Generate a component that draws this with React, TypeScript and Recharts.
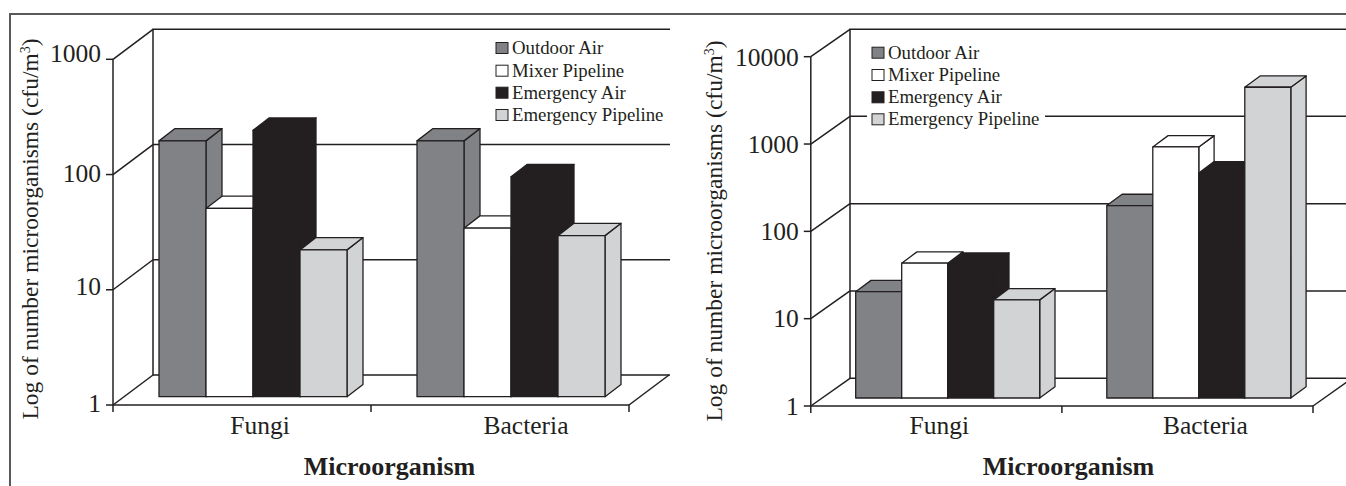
import React from 'react'
import { BarChart, Bar, XAxis, YAxis } from 'recharts'

const categories = ['Fungi', 'Bacteria']
const seriesNames = ['Outdoor Air', 'Mixer Pipeline', 'Emergency Air', 'Emergency Pipeline']
const seriesColors = ['#808285', '#ffffff', '#231f20', '#d1d3d4']

// values, cfu/m3
const leftOutdoor = [166, 166]
const leftMixer = [43, 29]
const leftAir = [205, 81]
const leftPipeline = [18.8, 25]
const leftTicks = [1, 10, 100, 1000]

const rightOutdoor = [16.5, 160]
const rightMixer = [35, 750]
const rightAir = [34, 378]
const rightPipeline = [13.3, 3620]
const rightTicks = [1, 10, 100, 1000, 10000]

const INK = '#231f20'
const SERIF = '"Liberation Serif", serif'
// paint order: a bar's top hides the lower part of its left neighbour's side
const LAYERS = ['side', 'top', 'front']

const buildRows = (columns: number[][]) =>
  categories.map((name, i) => ({
    name,
    s0: columns[0][i],
    s1: columns[1][i],
    s2: columns[2][i],
    s3: columns[3][i],
  }))

const makeShape = (layer: string, fill: string, panel: any) => (props: any) => {
  const w = props.width
  const h = props.height
  const x = props.x + panel.shiftX
  const y = props.y - panel.shiftY
  const dx = panel.barDepthX
  const dy = panel.barDepthY
  const style = { fill, stroke: INK, strokeWidth: 1.3, strokeLinejoin: 'round' as const }
  if (layer === 'top') {
    return <polygon {...style} points={`${x},${y} ${x + dx},${y - dy} ${x + w + dx},${y - dy} ${x + w},${y}`} />
  }
  if (layer === 'side') {
    return <polygon {...style} points={`${x + w},${y} ${x + w + dx},${y - dy} ${x + w + dx},${y + h - dy} ${x + w},${y + h}`} />
  }
  return <rect {...style} x={x} y={y} width={w} height={h} />
}

const Panel = ({ panel, columns, ticks }: any) => {
  const rows = buildRows(columns)
  const { left, width, plotLeft, plotRight, plotTop, plotBottom, wallX, wallY, wallRight } = panel
  const decade = (plotBottom - plotTop) / Math.log10(ticks[ticks.length - 1])
  const tickY = (v: number) => plotBottom - decade * Math.log10(v)
  const band = (plotRight - plotLeft) / categories.length
  const wallTop = 29.3

  const renderXTick = (props: any) => (
    <text
      x={props.x + panel.labelShift[props.index]}
      y={434}
      textAnchor="middle"
      fontFamily={SERIF}
      fontSize={25.5}
      fill={INK}
    >
      {props.payload.value}
    </text>
  )

  const renderYTick = (props: any) => (
    <text
      x={props.x}
      y={props.y + 8.5 - panel.tickLift[props.index]}
      textAnchor="end"
      fontFamily={SERIF}
      fontSize={25.5}
      fill={INK}
    >
      {props.payload.value}
    </text>
  )

  return (
    <div style={{ position: 'absolute', left, top: 0 }}>
      <BarChart
        width={width}
        height={486}
        data={rows}
        barCategoryGap={panel.groupGap}
        barGap={0}
        margin={{ left: plotLeft - 60, right: width - plotRight, top: plotTop, bottom: 486 - plotBottom - 40 }}
      >
        <g fill="none" stroke={INK} strokeWidth={1.5}>
          <polyline points={`${wallRight},${wallTop} ${plotLeft + wallX},${wallTop} ${plotLeft + wallX},${plotBottom - wallY} ${wallRight},${plotBottom - wallY}`} />
          <line x1={plotLeft} y1={plotBottom} x2={plotLeft + wallX} y2={plotBottom - wallY} />
          <line x1={plotRight} y1={plotBottom} x2={plotRight + wallX} y2={plotBottom - wallY} />
          <line x1={plotLeft} y1={tickY(ticks[ticks.length - 1])} x2={plotLeft + wallX} y2={wallTop} />
          {ticks.slice(1, -1).map((v: number) => (
            <g key={v}>
              <line x1={plotLeft} y1={tickY(v)} x2={plotLeft + wallX} y2={tickY(v) - wallY} />
              <line x1={plotLeft + wallX} y1={tickY(v) - wallY} x2={wallRight} y2={tickY(v) - wallY} />
            </g>
          ))}
          {[0, 1, 2].map((i) => (
            <line key={i} x1={plotLeft + band * i} y1={plotBottom} x2={plotLeft + band * i} y2={plotBottom + 7} />
          ))}
        </g>
        {panel.legendGap && <rect x={panel.legendGap[0]} y={panel.legendGap[1]} width={panel.legendGap[2]} height={panel.legendGap[3]} fill="#fff" />}
        <YAxis
          scale="log"
          domain={[1, ticks[ticks.length - 1]]}
          ticks={ticks}
          interval={0}
          allowDataOverflow
          width={60}
          tickSize={7}
          tickMargin={5}
          axisLine={{ stroke: INK, strokeWidth: 1.5 }}
          tickLine={{ stroke: INK, strokeWidth: 1.5 }}
          tick={renderYTick}
        />
        <XAxis
          xAxisId="front"
          dataKey="name"
          height={40}
          interval={0}
          tickLine={false}
          axisLine={{ stroke: INK, strokeWidth: 1.5 }}
          tick={renderXTick}
        />
        <XAxis xAxisId="top" dataKey="name" hide />
        <XAxis xAxisId="side" dataKey="name" hide />
        {LAYERS.flatMap((layer) =>
          seriesNames.map((name, i) => (
            <Bar
              key={layer + name}
              xAxisId={layer}
              dataKey={`s${i}`}
              name={name}
              fill={seriesColors[i]}
              isAnimationActive={false}
              shape={makeShape(layer, seriesColors[i], panel)}
            />
          ))
        )}
        <text
          transform={`translate(${panel.titleX},${panel.titleY}) rotate(-90)`}
          textAnchor="middle"
          fontFamily={SERIF}
          fontSize={23.5}
          fill={INK}
        >
          Log of number microorganisms (cfu/m<tspan dy={-8} fontSize={14}>3</tspan><tspan dy={8}>)</tspan>
        </text>
        <text
          x={panel.xTitleX}
          y={475}
          textAnchor="middle"
          fontFamily={SERIF}
          fontWeight="bold"
          fontSize={26}
          fill={INK}
        >
          Microorganism
        </text>
        {seriesNames.map((name, i) => (
          <g key={name}>
            <rect
              x={panel.legendX}
              y={panel.legendY[i] - 5.5}
              width={12}
              height={11}
              fill={seriesColors[i]}
              stroke={INK}
              strokeWidth={1}
            />
            <text
              x={panel.legendX + 16}
              y={panel.legendY[i] + 6}
              fontFamily={SERIF}
              fontSize={18.8}
              fill={INK}
            >
              {name}
            </text>
          </g>
        ))}
      </BarChart>
    </div>
  )
}

const leftPanel = {
  left: 0,
  width: 680,
  plotLeft: 113,
  plotRight: 629,
  plotTop: 59.3,
  plotBottom: 405,
  wallX: 40,
  wallY: 30,
  wallRight: 670,
  shiftX: 11,
  shiftY: 8.3,
  barDepthX: 16,
  barDepthY: 12.3,
  groupGap: 35,
  labelShift: [18, 26],
  tickLift: [2, 3, 1, 6],
  titleX: 38,
  titleY: 229,
  xTitleX: 389.5,
  legendX: 496,
  legendY: [48, 70.7, 92.7, 115],
}

const rightPanel = {
  left: 680,
  width: 666,
  plotLeft: 130.8,
  plotRight: 633,
  plotTop: 56.7,
  plotBottom: 406,
  wallX: 39.2,
  wallY: 27.7,
  wallRight: 666,
  shiftX: 11.3,
  shiftY: 8,
  barDepthX: 15.3,
  barDepthY: 11.3,
  groupGap: 33.6,
  labelShift: [3, 18],
  tickLift: [0, 0, 0, 0, -1],
  titleX: 42,
  titleY: 231,
  xTitleX: 388.5,
  legendX: 192,
  legendY: [52.7, 75, 97.3, 119.3],
  legendGap: [187, 107, 178, 19],
}

export default function App() {
  return (
    <div style={{ position: 'absolute', left: 0, top: 0, width: 1346, height: 486, background: '#fff', overflow: 'hidden' }}>
      <div style={{ position: 'absolute', left: 9, top: 12.5, width: 1337, height: 2, background: '#58595b' }} />
      <div style={{ position: 'absolute', left: 9, top: 12.5, width: 2, height: 474, background: '#58595b' }} />
      <Panel panel={leftPanel} columns={[leftOutdoor, leftMixer, leftAir, leftPipeline]} ticks={leftTicks} />
      <Panel panel={rightPanel} columns={[rightOutdoor, rightMixer, rightAir, rightPipeline]} ticks={rightTicks} />
    </div>
  )
}
